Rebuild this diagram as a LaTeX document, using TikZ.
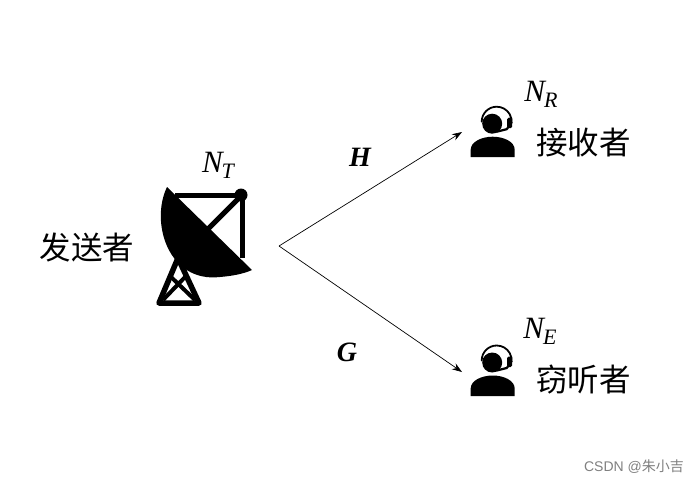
\documentclass[tikz,border=0pt]{standalone}
\usepackage{fontspec}
\setmainfont{Liberation Serif}
\newfontfamily\cjk{Noto Sans CJK SC}
\newfontfamily\wm{Liberation Sans}
\usetikzlibrary{arrows.meta}
\tikzset{
  x=1pt,y=-1pt,
  lbl/.style={inner sep=0pt,font=\cjk\fontsize{31.5}{32}\selectfont},
  sym/.style={inner sep=0pt,font=\itshape\fontsize{31}{31}\selectfont},
  bsym/.style={inner sep=0pt,font=\bfseries\itshape\fontsize{28}{28}\selectfont},
  link/.style={draw=black,line width=0.7pt,-{Stealth[length=10pt,width=7pt]}},
  frame/.style={draw=black,line width=5pt},
}
\newcommand{\subs}[2]{#1\kern-1pt\raisebox{-6pt}{\fontsize{22}{22}\selectfont #2}}
\newcommand{\agent}[2]{%
  \begin{scope}[shift={(#1,#2)}]
    \fill (0.5,2) circle (10);
    \draw[line width=1.8pt,line cap=round] (-10,0) arc[start angle=180,end angle=365,radius=15];
    \fill[rounded corners=1.5pt] (15.5,-4) rectangle (20.5,6.5);
    \draw[line width=2.2pt,line cap=round] (5,10) -- (15,7.5) -- (17,5);
    \fill (-21,35.5) -- (-21,28) .. controls (-21,20) and (-10,15) .. (1,15) .. controls (12,15) and (23,20) .. (23,28) -- (23,35.5) -- cycle;
  \end{scope}}
\begin{document}
\begin{tikzpicture}
\useasboundingbox (0,0) rectangle (699,483);
\fill[white] (0,0) rectangle (699,483);
% dish
\fill (167,187) .. controls (150,222) and (168,283) .. (220,277) .. controls (232,276) and (243,274) .. (252,270) -- cycle;
\draw[frame] (175,195) -- (242,195) -- (242,258);
\draw[frame] (242,195) -- (208,229);
\fill (241,195) circle (6.5);
% tower
\draw[frame,line join=round,line width=5.5pt] (178,258) -- (159,303) -- (199,303) -- (178,258);
\draw[line width=4pt] (186,276) -- (163,300) (170,276) -- (195,300);
% links
\coordinate (src) at (279,246);
\coordinate (rx) at (462,132);
\coordinate (ex) at (462,372);
\draw[link] (src) -- (rx);
\draw[link] (src) -- (ex);
\agent{491.7}{121.7}
\agent{491.7}{360.5}
\node[lbl] (tx) at (87,248) {发送者};
\node[lbl] (rl) at (583.5,143) {接收者};
\node[lbl] (el) at (583.5,380) {窃听者};
\node[sym] (nt) at (218,165) {\subs{N}{T}};
\node[sym] (nr) at (541,94) {\subs{N}{R}};
\node[sym] (ne) at (540,331) {\subs{N}{E}};
\node[bsym] (h) at (360,157) {H};
\node[bsym] (g) at (347,352) {G};
\node[inner sep=0pt,text=black!50,font=\wm\fontsize{14}{14}\selectfont] (w) at (634,467) {CSDN @{\cjk 朱小吉}};
\end{tikzpicture}
\end{document}
